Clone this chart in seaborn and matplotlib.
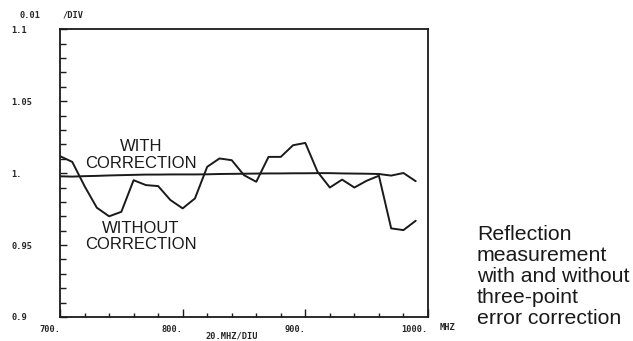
import pandas as pd
import numpy as np
import matplotlib
matplotlib.use("Agg")
import matplotlib.pyplot as plt
import seaborn as sns
from matplotlib.ticker import MultipleLocator

# frequency points (MHz), one every 10 MHz
freq = [700, 710, 720, 730, 740, 750, 760, 770, 780, 790,
        800, 810, 820, 830, 840, 850, 860, 870, 880, 890,
        900, 910, 920, 930, 940, 950, 960, 970, 980, 990]

# reflection with three-point error correction
with_corr = [0.9978, 0.9976, 0.9979, 0.9981, 0.9984, 0.9986, 0.9988, 0.9990, 0.9990, 0.9991,
             0.9991, 0.9991, 0.9992, 0.9994, 0.9995, 0.9996, 0.9997, 0.9998, 0.9998, 0.9999,
             0.9999, 1.0000, 1.0000, 0.9998, 0.9997, 0.9996, 0.9994, 0.9983, 1.0001, 0.9944]

# reflection without correction
without_corr = [1.0118, 1.0078, 0.9910, 0.9760, 0.9700, 0.9731, 0.9951, 0.9917, 0.9910, 0.9813,
                0.9755, 0.9824, 1.0044, 1.0102, 1.0090, 0.9986, 0.9940, 1.0113, 1.0113, 1.0194,
                1.0210, 1.0009, 0.9900, 0.9955, 0.9900, 0.9947, 0.9982, 0.9616, 0.9604, 0.9669]

y_ticks = [0.9, 0.95, 1.0, 1.05, 1.1]
y_labels = ["0.9", "0.95", "1.", "1.05", "1.1"]
x_ticks = [700, 800, 900, 1000]
x_labels = ["700.", "800.", "900.", "1000."]

df = pd.DataFrame({
    "freq": freq * 2,
    "value": with_corr + without_corr,
    "curve": ["with"] * len(freq) + ["without"] * len(freq),
})

sns.set_style("white")
plt.rcParams["font.family"] = ["Liberation Sans", "DejaVu Sans"]

fig = plt.figure(figsize=(6.33, 3.41), dpi=100)
ax = fig.add_axes([0.0948, 0.0704, 0.5813, 0.8437])

sns.lineplot(data=df, x="freq", y="value", hue="curve",
             palette={"with": "#1a1a1a", "without": "#1a1a1a"},
             linewidth=1.4, legend=False, ax=ax)

ax.set_xlim(700, 1000)
ax.set_ylim(0.9, 1.1)
ax.set_xlabel("")
ax.set_ylabel("")
for side in ["top", "right", "bottom", "left"]:
    ax.spines[side].set_color("#1a1a1a")
    ax.spines[side].set_linewidth(1.3)

tick_font = dict(family="DejaVu Sans Mono", weight="bold", size=6.2)

ax.set_yticks(y_ticks)
ax.set_yticklabels(y_labels, **tick_font)
ax.yaxis.set_minor_locator(MultipleLocator(0.01))
ax.tick_params(axis="y", which="both", direction="in", left=True, right=False,
               pad=35, color="#1a1a1a")
ax.tick_params(axis="y", which="major", length=5, width=1)
ax.tick_params(axis="y", which="minor", length=4, width=1)
for lab in ax.get_yticklabels():
    lab.set_horizontalalignment("left")

ax.set_xticks(x_ticks)
ax.set_xticklabels(x_labels, **tick_font)
ax.xaxis.set_minor_locator(MultipleLocator(20))
ax.tick_params(axis="x", which="both", direction="in", bottom=True, top=False,
               pad=6, color="#1a1a1a")
ax.tick_params(axis="x", which="major", length=6, width=1)
ax.tick_params(axis="x", which="minor", length=3, width=1)
for lab in ax.get_xticklabels():
    lab.set_horizontalalignment("right")

# plotter annotations
fig.text(20 / 633, 1 - 15 / 341, "0.01", va="center", ha="left", **tick_font)
fig.text(63 / 633, 1 - 15 / 341, "/DIV", va="center", ha="left", **tick_font)
fig.text(440 / 633, 1 - 328 / 341, "MHZ", va="center", ha="left", **tick_font)
fig.text(232 / 633, 1 - 336 / 341, "20.MHZ/DIU", va="center", ha="center", **tick_font)

# curve labels
ax.text(766, 1.0128, "WITH\nCORRECTION", ha="center", va="center",
        fontsize=12, linespacing=1.15, color="#1a1a1a")
ax.text(766, 0.9559, "WITHOUT\nCORRECTION", ha="center", va="center",
        fontsize=12, linespacing=1.15, color="#1a1a1a")

# caption
fig.text(477 / 633, 1 - 225 / 341,
         "Reflection\nmeasurement\nwith and without\nthree-point\nerror correction",
         ha="left", va="top", fontsize=15.3, linespacing=1.14, color="#1a1a1a")

fig.savefig("out.png", dpi=100, facecolor="white")
